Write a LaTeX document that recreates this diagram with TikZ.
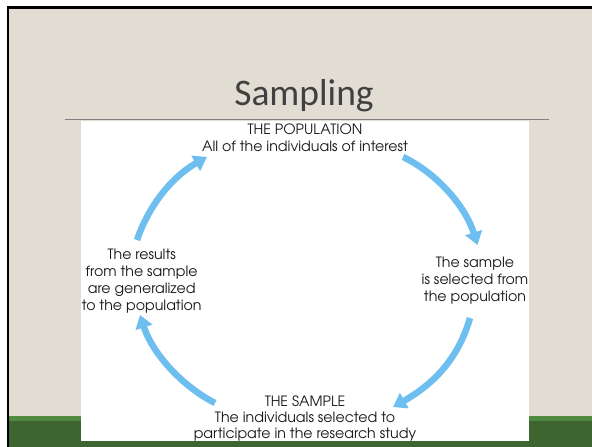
\documentclass[tikz,border=0pt]{standalone}
\usepackage{fontspec}
\setmainfont{Carlito}
\newfontfamily\gothic{texgyreadventor-regular.otf}
\usetikzlibrary{arrows.meta}
\definecolor{beige}{RGB}{226,221,210}
\definecolor{greenlight}{RGB}{80,138,64}
\definecolor{greendark}{RGB}{62,101,48}
\definecolor{titlegray}{RGB}{64,64,64}
\definecolor{arrowblue}{RGB}{110,191,240}
\definecolor{labtext}{RGB}{25,25,25}
\tikzset{
  lab/.style={font=\gothic\fontsize{14.2}{17}\selectfont, text=labtext, align=center, inner sep=0pt},
  cyc/.style={draw=arrowblue, line width=6.5pt, -{Triangle[length=13pt,width=17pt]}},
}
\begin{document}
\begin{tikzpicture}[x=1pt,y=-1pt]
\useasboundingbox (0,0) rectangle (592,447);
\fill[white] (0,0) rectangle (592,447);
\fill[beige] (7,6) rectangle (592,447);
\fill[greenlight] (7,415.7) rectangle (592,447);
\fill[greendark] (7,420.7) rectangle (592,447);
\fill[black] (6.5,6) rectangle (9.3,447);
\fill[black] (6.5,6) rectangle (592,8.8);
\fill[white] (81,120.7) rectangle (529.3,441);
\draw[gray, line width=1pt] (64.7,119.5) -- (549,119.5);
\node[font=\fontsize{37.5}{40}\selectfont, text=titlegray, anchor=base, inner sep=0pt] (title) at (304,105.7) {Sampling};
\node[lab, anchor=north] (pop) at (305,123.3) {THE POPULATION\\All of the individuals of interest};
\node[lab, anchor=north] (sel) at (475,256.5) {The sample\\is selected from\\the population};
\node[lab, anchor=north] (gen) at (141.7,249.3) {The results\\from the sample\\are generalized\\to the population};
\node[lab, anchor=north, font=\gothic\fontsize{14.2}{16}\selectfont] (smp) at (305,395.7) {THE SAMPLE\\The individuals selected to\\participate in the research study};
\coordinate (a1s) at (137,240);
\coordinate (a1e) at (207,157);
\coordinate (a2s) at (403,157);
\coordinate (a2e) at (477.5,245);
\coordinate (a3s) at (470,318);
\coordinate (a3e) at (393,407);
\coordinate (a4s) at (215,403);
\coordinate (a4e) at (140,315);
\draw[cyc] (a1s) .. controls (150,202) and (175,175) .. (a1e);
\draw[cyc] (a2s) .. controls (435,172) and (465,205) .. (a2e);
\draw[cyc] (a3s) .. controls (458,360) and (432,385) .. (a3e);
\draw[cyc] (a4s) .. controls (180,385) and (152,352) .. (a4e);
\end{tikzpicture}
\end{document}
